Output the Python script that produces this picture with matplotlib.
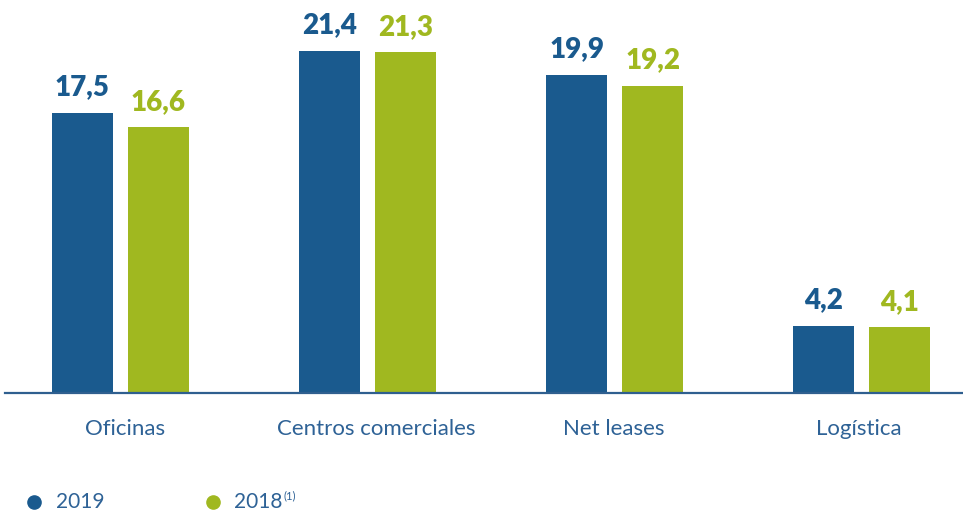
import matplotlib
matplotlib.use("Agg")
import matplotlib.pyplot as plt
from matplotlib.lines import Line2D

categorias = ["Oficinas", "Centros comerciales", "Net leases", "Logística"]
valores_2019 = [17.5, 21.4, 19.9, 4.2]
valores_2018 = [16.6, 21.3, 19.2, 4.1]
etiquetas_2019 = ["17,5", "21,4", "19,9", "4,2"]
etiquetas_2018 = ["16,6", "21,3", "19,2", "4,1"]

azul = "#1a5a8e"
verde = "#a0b820"
texto = "#2e6296"

plt.rcParams["font.family"] = ["Lato", "DejaVu Sans"]

W, H = 963, 513
fig = plt.figure(figsize=(W / 100, H / 100), dpi=100)
# axes: x from 5px to 963px, axis line at y=393px from top
ax = fig.add_axes([5 / W, (H - 393) / H, (W - 5) / W, 393 / H])

x = range(len(categorias))
ancho = 0.245
desp = 0.154
x1 = [i - desp for i in x]
x2 = [i + desp for i in x]
ax.bar(x1, valores_2019, width=ancho, color=azul)
ax.bar(x2, valores_2018, width=ancho, color=verde)

for xi, v, t in zip(x1, valores_2019, etiquetas_2019):
    ax.annotate(t, (xi, v), xytext=(0, 9), textcoords="offset points",
                ha="center", va="bottom", fontsize=20, fontweight="heavy", color=azul)
for xi, v, t in zip(x2, valores_2018, etiquetas_2018):
    ax.annotate(t, (xi, v), xytext=(0, 9), textcoords="offset points",
                ha="center", va="bottom", fontsize=20, fontweight="heavy", color=verde)

ax.set_xlim(-0.467, 3.41)
ax.set_ylim(0, 24.56)
for s in ["top", "right", "left"]:
    ax.spines[s].set_visible(False)
ax.spines["bottom"].set_color("#2f5f8f")
ax.spines["bottom"].set_linewidth(1.6)
ax.set_yticks([])
ax.set_xticks([0.02, 1.035, 1.995, 2.99])
ax.set_xticklabels(categorias, fontsize=16, color=texto)
ax.tick_params(axis="x", length=0, pad=19)

# leyenda
yl = (H - 502) / H
fig.add_artist(Line2D([34 / W], [yl], marker="o", markersize=9.5,
                      color=azul, transform=fig.transFigure))
fig.text(56 / W, yl, "2019", fontsize=15, color=texto, va="center")
fig.add_artist(Line2D([213 / W], [yl], marker="o", markersize=9.5,
                      color=verde, transform=fig.transFigure))
t18 = fig.text(234 / W, yl, "2018", fontsize=15, color=texto, va="center")
ax.annotate("(1)", xy=(1, 1), xycoords=t18, xytext=(1, 1),
            textcoords="offset points", ha="left", va="top",
            fontsize=8, color=texto)

fig.savefig("out.png", dpi=100)
